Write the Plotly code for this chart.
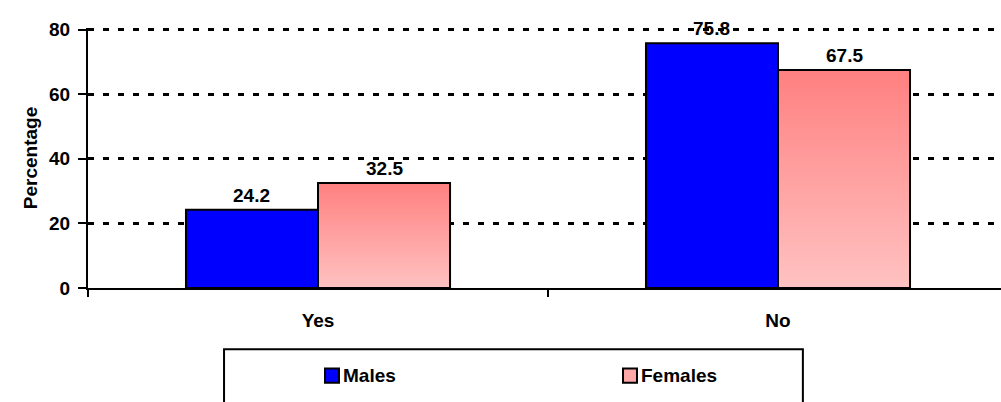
import plotly.graph_objects as go

categories = ["Yes", "No"]
males = [24.2, 75.8]
females = [32.5, 67.5]

FONT = "Liberation Sans, Arial, sans-serif"
FS = 19
BAR_W = 0.287          # bar width in category units
X_MAX = 1.4848         # right end of the category axis
Y_MAX = 80.5           # a little headroom so the 80 gridline shows in full
GRID_DASH = "6px,9px"

xpos = list(range(len(categories)))

fig = go.Figure()

fig.add_trace(go.Bar(
    name="Males", x=xpos, y=males, width=BAR_W, offset=-BAR_W,
    marker=dict(color="#0000FF", line=dict(color="black", width=2)),
    showlegend=False, hoverinfo="skip",
))
fig.add_trace(go.Bar(
    name="Females", x=xpos, y=females, width=BAR_W, offset=0,
    marker=dict(color="#FFA0A0", line=dict(color="black", width=2)),
    showlegend=False, hoverinfo="skip",
))

# vertical pink gradient over each female bar
for i, v in zip(xpos, females):
    fig.add_trace(go.Scatter(
        x=[i, i, i + BAR_W, i + BAR_W, i],
        y=[0, v, v, 0, 0],
        mode="lines", fill="toself",
        fillgradient=dict(type="vertical",
                          colorscale=[[0, "#FFC2C2"], [1, "#FF8080"]]),
        line=dict(color="black", width=2),
        showlegend=False, hoverinfo="skip",
    ))

# value labels
for i, (m, f) in enumerate(zip(males, females)):
    for xc, v in ((i - BAR_W / 2, m), (i + BAR_W / 2, f)):
        fig.add_annotation(
            x=xc, y=v, text=f"{v:.1f}", showarrow=False,
            yanchor="bottom", yshift=2,
            font=dict(family=FONT, size=FS, color="black", weight="bold"),
        )

# legend box with keys
fig.add_shape(type="rect", xref="paper", yref="paper",
              x0=0.149, x1=0.783, y0=-0.52, y1=-0.236,
              line=dict(color="black", width=2), fillcolor="white")
legend_items = [("Males", "#0000FF", 0.2596), ("Females", "#FFA8A8", 0.586)]
for label, color, x0 in legend_items:
    fig.add_shape(type="rect", xref="paper", yref="paper",
                  x0=x0, x1=x0 + 0.0153, y0=-0.364, y1=-0.310,
                  line=dict(color="black", width=2), fillcolor=color)
    fig.add_annotation(xref="paper", yref="paper", x=x0 + 0.0172, y=-0.337,
                       xanchor="left", yanchor="middle", showarrow=False,
                       text=label,
                       font=dict(family=FONT, size=FS, color="black", weight="bold"))

fig.update_layout(
    width=1001, height=402,
    margin=dict(l=88, r=0, t=28.4, b=114),
    paper_bgcolor="white", plot_bgcolor="white",
    barmode="overlay",
    font=dict(family=FONT, color="black"),
    xaxis=dict(
        range=[-0.5, X_MAX], tickmode="array", tickvals=xpos, ticktext=categories,
        ticks="", showline=True, linecolor="black", linewidth=2,
        showgrid=False, zeroline=False, ticklabelstandoff=14,
        tickfont=dict(family=FONT, size=FS, weight="bold"),
        minor=dict(tickmode="array", tickvals=[-0.5, 0.5, 1.5], ticks="outside",
                   ticklen=7, tickwidth=2, tickcolor="black", showgrid=False),
    ),
    yaxis=dict(
        range=[0, Y_MAX], tickmode="array", tickvals=[0, 20, 40, 60, 80],
        ticks="outside", ticklen=8, tickwidth=2,
        tickcolor="black", showline=True, linecolor="black", linewidth=2,
        showgrid=True, gridcolor="black", gridwidth=3, griddash=GRID_DASH,
        zeroline=False, ticklabelstandoff=4,
        tickfont=dict(family=FONT, size=FS, weight="bold"),
        title=dict(text="Percentage", standoff=6,
                   font=dict(family=FONT, size=FS, weight="bold")),
    ),
)

fig.write_html("out.html")
